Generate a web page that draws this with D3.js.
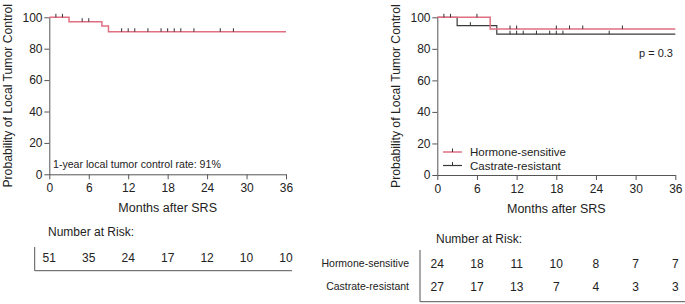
<!DOCTYPE html>
<html>
<head>
<meta charset="utf-8">
<script src="https://cdn.jsdelivr.net/npm/d3@7"></script>
<style>
  body { margin: 0; background: #fff; }
  svg { display: block; font-family: "Liberation Sans", Arial, sans-serif; }
</style>
</head>
<body>
<div id="chart"></div>
<script>
// x axis ticks (months) and y axis ticks (%)
var monthTicks = [0, 6, 12, 18, 24, 30, 36];
var probTicks = [0, 20, 40, 60, 80, 100];

// left panel: all patients, step curve [month, survival %]
var allSteps = [[0, 100], [3, 97.2], [8, 94.4], [9, 90.8], [36, 90.8]];
var allCensor = [1, 2, 5, 6, 11, 12, 13, 15, 17, 18, 19, 20, 22, 26, 28];
var allAtRisk = [51, 35, 24, 17, 12, 10, 10];

// right panel: by hormone status
var groupNames = ["Hormone-sensitive", "Castrate-resistant"];
var hsSteps = [[0, 100], [8, 92.6], [36, 92.6]];
var hsCensor = [1, 2, 6, 11, 12, 18, 20, 22, 28];
var crSteps = [[0, 100], [3, 94.7], [9, 89.3], [36, 89.3]];
var crCensor = [5, 11, 12, 13, 15, 17, 18, 19, 26];
var hsAtRisk = [24, 18, 11, 10, 8, 7, 7];
var crAtRisk = [27, 17, 13, 7, 4, 3, 3];

var pink = "#e06f82";
var dark = "#3a3a3a";

var svg = d3.select("#chart").append("svg")
    .attr("width", 685)
    .attr("height", 304);

// step value at a given month
function valueAt(steps, t) {
    var v = steps[0][1];
    steps.forEach(function(s) { if (s[0] <= t) v = s[1]; });
    return v;
}

function drawPanel(left, right, top, bottom) {
    var x = d3.scaleLinear().domain([0, 36]).range([left, right]);
    var y = d3.scaleLinear().domain([0, 100]).range([bottom, top]);

    svg.append("g")
        .attr("transform", "translate(0," + bottom + ")")
        .call(d3.axisBottom(x).tickValues(monthTicks).tickSize(5).tickSizeOuter(0))
        .call(function(g) {
            g.selectAll("text").attr("font-size", 12).attr("fill", "#222").attr("dy", "0.85em");
            g.selectAll("line, path").attr("stroke", "#555");
        });

    svg.append("g")
        .attr("transform", "translate(" + left + ",0)")
        .call(d3.axisLeft(y).tickValues(probTicks).tickSize(5).tickSizeOuter(0))
        .call(function(g) {
            g.selectAll("text").attr("font-size", 12).attr("fill", "#222").attr("dx", "0.1em");
            g.selectAll("line, path").attr("stroke", "#555");
        });

    svg.append("text")
        .attr("x", (left + right) / 2)
        .attr("y", bottom + 38)
        .attr("text-anchor", "middle")
        .attr("font-size", 12.5)
        .attr("fill", "#222")
        .text("Months after SRS");

    svg.append("text")
        .attr("transform", "translate(" + (left - 37.5) + "," + ((top + bottom) / 2) + ") rotate(-90)")
        .attr("text-anchor", "middle")
        .attr("font-size", 12.2)
        .attr("fill", "#222")
        .text("Probability of Local Tumor Control");

    return { x: x, y: y };
}

function drawCurve(sc, steps, censor, color, width) {
    var line = d3.line()
        .x(function(d) { return sc.x(d[0]); })
        .y(function(d) { return sc.y(d[1]); })
        .curve(d3.curveStepAfter);
    svg.append("path")
        .datum(steps)
        .attr("fill", "none")
        .attr("stroke", color)
        .attr("stroke-width", width)
        .attr("d", line);
    svg.append("g").selectAll("line")
        .data(censor)
        .enter().append("line")
        .attr("x1", function(d) { return sc.x(d); })
        .attr("x2", function(d) { return sc.x(d); })
        .attr("y1", function(d) { return sc.y(valueAt(steps, d)) - 3.5; })
        .attr("y2", function(d) { return sc.y(valueAt(steps, d)); })
        .attr("stroke", "#333")
        .attr("stroke-width", 1);
}

function drawRiskRow(sc, values, yPos) {
    svg.append("g").selectAll("text")
        .data(values)
        .enter().append("text")
        .attr("x", function(d, i) { return sc.x(monthTicks[i]); })
        .attr("y", yPos)
        .attr("text-anchor", "middle")
        .attr("font-size", 12)
        .attr("fill", "#222")
        .text(function(d) { return d; });
}

// ---- left panel ----
var sL = drawPanel(49.3, 286, 17.3, 174.3);
drawCurve(sL, allSteps, allCensor, pink, 1.5);

svg.append("text")
    .attr("x", 53)
    .attr("y", 167.5)
    .attr("font-size", 10.6)
    .attr("fill", "#222")
    .text("1-year local tumor control rate: 91%");

svg.append("text")
    .attr("x", 48)
    .attr("y", 236)
    .attr("font-size", 12)
    .attr("fill", "#222")
    .text("Number at Risk:");

drawRiskRow(sL, allAtRisk, 262);

svg.append("path")
    .attr("d", "M34.7,247V270.7H292")
    .attr("fill", "none")
    .attr("stroke", "#555");

// ---- right panel ----
var sR = drawPanel(437.3, 675.3, 17.3, 175);
drawCurve(sR, crSteps, crCensor, dark, 1.2);
drawCurve(sR, hsSteps, hsCensor, pink, 1.5);

svg.append("text")
    .attr("x", 673)
    .attr("y", 57)
    .attr("text-anchor", "end")
    .attr("font-size", 11)
    .attr("fill", "#222")
    .text("p = 0.3");

// legend
var legend = svg.append("g").attr("class", "legend");
var legendItem = legend.selectAll("g")
    .data([{ name: groupNames[0], color: pink, w: 1.5 }, { name: groupNames[1], color: dark, w: 1.2 }])
    .enter().append("g")
    .attr("transform", function(d, i) { return "translate(443," + (152 + i * 13.5) + ")"; });
legendItem.append("line")
    .attr("x1", 0).attr("x2", 19)
    .attr("stroke", function(d) { return d.color; })
    .attr("stroke-width", function(d) { return d.w; });
legendItem.append("line")
    .attr("x1", 9.5).attr("x2", 9.5).attr("y1", -3.5).attr("y2", 0)
    .attr("stroke", "#333");
legendItem.append("text")
    .attr("x", 27)
    .attr("dy", "0.35em")
    .attr("font-size", 11.5)
    .attr("fill", "#222")
    .text(function(d) { return d.name; });

svg.append("text")
    .attr("x", 436)
    .attr("y", 242.5)
    .attr("font-size", 12)
    .attr("fill", "#222")
    .text("Number at Risk:");

svg.selectAll(".rowlabel")
    .data(groupNames)
    .enter().append("text")
    .attr("class", "rowlabel")
    .attr("x", 409)
    .attr("y", function(d, i) { return 267 + i * 23.4; })
    .attr("text-anchor", "end")
    .attr("font-size", 10.5)
    .attr("fill", "#222")
    .text(function(d) { return d; });

drawRiskRow(sR, hsAtRisk, 268);
drawRiskRow(sR, crAtRisk, 291);

svg.append("path")
    .attr("d", "M420,250V301.7H685")
    .attr("fill", "none")
    .attr("stroke", "#555");
</script>
</body>
</html>
